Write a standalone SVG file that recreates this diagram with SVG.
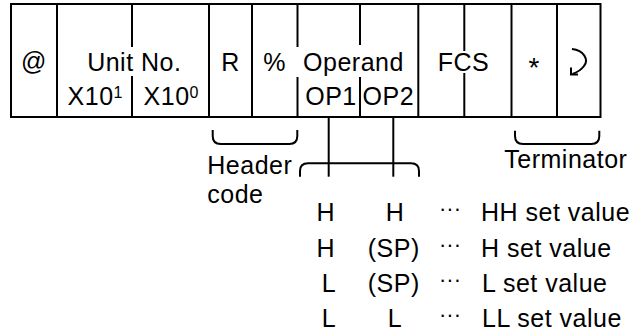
<svg xmlns="http://www.w3.org/2000/svg" width="633" height="330" viewBox="0 0 633 330">
<style>
text{font-family:"Liberation Sans",Arial,Helvetica,sans-serif;font-size:25px;fill:#000;letter-spacing:0.5px}
.m{text-anchor:middle}
.sup{font-size:16px;letter-spacing:0}
.ln{stroke:#000;stroke-width:2;fill:none}
.dots{font-size:22px;letter-spacing:0}
</style>
<rect width="633" height="330" fill="#fff"/>
<g id="frame">
<rect class="ln" x="11" y="4" width="589.5" height="113"/>
<line class="ln" x1="57" y1="4" x2="57" y2="117"/>
<line class="ln" x1="132" y1="4" x2="132" y2="47"/>
<line class="ln" x1="132" y1="76" x2="132" y2="117"/>
<line class="ln" x1="209" y1="4" x2="209" y2="117"/>
<line class="ln" x1="252" y1="4" x2="252" y2="117"/>
<line class="ln" x1="297.5" y1="4" x2="297.5" y2="47"/>
<line class="ln" x1="297.5" y1="77" x2="297.5" y2="117"/>
<line class="ln" x1="360" y1="4" x2="360" y2="45"/>
<line class="ln" x1="360" y1="77" x2="360" y2="117"/>
<line class="ln" x1="418.3" y1="4" x2="418.3" y2="117"/>
<line class="ln" x1="464.3" y1="4" x2="464.3" y2="51"/>
<line class="ln" x1="464.3" y1="73" x2="464.3" y2="117"/>
<line class="ln" x1="511.5" y1="4" x2="511.5" y2="117"/>
<line class="ln" x1="557" y1="4" x2="557" y2="117"/>
</g>
<g id="at"><text class="m" x="34" y="70">@</text></g>
<g id="unit">
<text class="m" x="134.3" y="71">Unit No.</text>
<text class="m" x="95" y="104.5">X10<tspan class="sup" dy="-7">1</tspan></text>
<text class="m" x="171" y="104.5">X10<tspan class="sup" dy="-7">0</tspan></text>
</g>
<g id="r"><text class="m" x="230.5" y="71">R</text></g>
<g id="pct"><text class="m" x="274.5" y="71">%</text></g>
<g id="operand">
<text class="m" x="353.5" y="71">Operand</text>
<text class="m" x="331" y="104.5">OP1</text>
<text class="m" x="388.3" y="104.5">OP2</text>
</g>
<g id="fcs"><text class="m" x="463.5" y="71">FCS</text></g>
<g id="star"><text class="m" x="534" y="77" style="font-size:28px;letter-spacing:0">*</text></g>
<g id="cr">
<path class="ln" d="M572,49 C584,50 589,60 584,66 C581,70 577,72.5 572.5,74"/>
<path class="ln" d="M571,67.5 L571,74.5 L578,74.5"/>
</g>
<g id="connectors">
<path class="ln" d="M212.7,130 V136 Q212.7,144 220.7,144 H289.3 Q297.3,144 297.3,136 V130"/>
<path class="ln" d="M515,130.7 V136 Q515,144 523,144 H591.3 Q599.3,144 599.3,136 V130.7"/>
<line class="ln" x1="328.7" y1="117" x2="328.7" y2="176.7"/>
<line class="ln" x1="393.3" y1="117" x2="393.3" y2="176.7"/>
<path class="ln" d="M300,176.7 V171 Q300,163.3 308,163.3 H411 Q419,163.3 419,171 V176.7"/>
</g>
<g id="header"><text x="207.3" y="174">Header</text><text x="207.3" y="203">code</text></g>
<g id="terminator"><text x="504.3" y="168">Terminator</text></g>
<g id="table">
<text class="m" x="325.7" y="221">H</text>
<text class="m" x="395" y="221">H</text>
<text class="dots" x="439" y="216.3">···</text>
<text x="481" y="221">HH set value</text>
<text class="m" x="325.7" y="256.5">H</text>
<text class="m" x="393.8" y="256.5">(SP)</text>
<text class="dots" x="439" y="251.8">···</text>
<text x="481" y="256.5">H set value</text>
<text class="m" x="329" y="291.5">L</text>
<text class="m" x="393.8" y="291.5">(SP)</text>
<text class="dots" x="439" y="286.8">···</text>
<text x="482" y="291.5">L set value</text>
<text class="m" x="329" y="326.5">L</text>
<text class="m" x="395" y="326.5">L</text>
<text class="dots" x="439" y="321.8">···</text>
<text x="482" y="326.5">LL set value</text>
</g>
</svg>
